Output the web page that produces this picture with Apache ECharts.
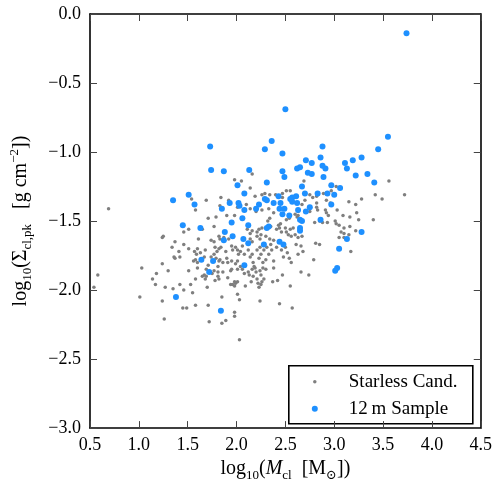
<!DOCTYPE html>
<html>
<head>
<meta charset="utf-8">
<script src="https://cdn.jsdelivr.net/npm/echarts@6/dist/echarts.min.js"></script>
<style>
  html, body { margin: 0; padding: 0; background: #fff; }
  #chart { width: 495px; height: 487px; }
</style>
</head>
<body>
<div id="chart"></div>
<script>
// starless core candidates: [log10 Mcl, log10 Sigma_cl,pk]
var starless = [
  [0.69,-1.41],[1.54,-1.34],[1.69,-1.35],[1.58,-1.42],[1.71,-1.48],[1.51,-1.56],[1.65,-1.56],[1.77,-1.54],
  [1.46,-1.58],[1.25,-1.61],[1.24,-1.62],[1.37,-1.65],[1.61,-1.63],[1.46,-1.67],[1.34,-1.69],[1.51,-1.70],
  [1.60,-1.70],[1.77,-1.65],[1.78,-1.69],[1.41,-1.72],[1.57,-1.72],[1.59,-1.74],[1.63,-1.73],[1.68,-1.71],
  [1.36,-1.76],[1.37,-1.77],[1.42,-1.76],[1.58,-1.78],[1.60,-1.80],[1.74,-1.76],[1.24,-1.81],[1.03,-1.84],
  [1.18,-1.88],[1.30,-1.86],[1.67,-1.89],[0.58,-1.89],[1.77,-1.86],[1.83,-1.39],[1.83,-1.63],[1.74,-1.64],
  [1.82,-1.70],[1.80,-1.72],[1.67,-1.76],[1.56,-1.79],[1.60,-1.84],[1.71,-1.82],[1.69,-1.85],[1.81,-1.83],
  [1.82,-1.79],[1.51,-1.86],[1.65,-1.90],[1.75,-1.88],
  [0.54,-1.98],[1.14,-1.92],[1.17,-1.96],[1.01,-2.05],[1.27,-1.98],[1.35,-1.99],[1.42,-1.96],[1.46,-2.00],
  [1.24,-2.08],[1.26,-2.21],[1.45,-2.13],[1.49,-2.13],[1.53,-1.96],[1.55,-2.02],[1.58,-1.92],[1.58,-2.11],
  [1.68,-1.92],[1.69,-1.90],[1.70,-1.98],[1.71,-2.11],[1.72,-2.23],[1.78,-1.93],[1.81,-1.87],[1.81,-1.90],
  [1.82,-1.92],[1.86,-1.87],[1.85,-2.05],[1.89,-2.22],[1.85,-2.24],[1.91,-1.91],[1.95,-1.85],[1.96,-1.96],
  [1.98,-1.94],[1.99,-1.95],[2.01,-1.94],[1.98,-1.97],[2.01,-2.03],[2.03,-2.07],[1.98,-2.16],[1.98,-2.19],
  [2.03,-2.36],[2.01,-1.85],[2.06,-1.85],[2.08,-1.88],[2.09,-1.97],[2.13,-1.89],[2.15,-1.94],[2.16,-1.85],
  [2.17,-1.90],[2.20,-1.87],[2.21,-1.92],[2.22,-1.95],[2.23,-1.98],[2.24,-2.08],[2.25,-1.96],[2.27,-1.84],
  [2.30,-1.85],[2.28,-1.92],[2.37,-1.94],[2.38,-1.84],[2.42,-1.93],[2.44,-2.10],[2.47,-1.89],[2.55,-1.97],
  [2.66,-1.87],[2.74,-1.89],[2.57,-2.13],[1.94,-1.96],[2.19,-1.84],[2.26,-1.94],
  [1.98,-1.20],[2.05,-1.21],[2.16,-1.16],[2.14,-1.26],[2.19,-1.32],[2.26,-1.31],[2.29,-1.30],[2.34,-1.31],
  [2.40,-1.31],[2.47,-1.30],[2.51,-1.28],[2.55,-1.28],[2.47,-1.33],[1.92,-1.35],[1.84,-1.33],[2.01,-1.40],
  [2.10,-1.38],[2.14,-1.41],[2.20,-1.43],[1.90,-1.46],[1.98,-1.46],[2.26,-1.42],[2.33,-1.41],[2.38,-1.44],
  [2.34,-1.48],[2.32,-1.50],[2.51,-1.49],[2.54,-1.48],[2.62,-1.47],[2.75,-1.43],[2.83,-1.42],[2.91,-1.42],
  [2.82,-1.37],[2.92,-1.35],[2.96,-1.37],[2.70,-1.35],[2.67,-1.38],[2.60,-1.45],[2.94,-1.46],[2.93,-1.51],
  [3.03,-1.42],[3.01,-1.50],[1.79,-1.47],[2.11,-1.56],[2.16,-1.57],[2.14,-1.59],[2.21,-1.58],[2.23,-1.56],
  [2.26,-1.55],[2.35,-1.54],[2.43,-1.53],[2.44,-1.55],[2.45,-1.52],[2.41,-1.56],[2.46,-1.58],[2.50,-1.55],
  [2.51,-1.58],[2.58,-1.55],[2.53,-1.60],[2.56,-1.61],[2.63,-1.62],[2.25,-1.60],[2.21,-1.61],[2.24,-1.63],
  [2.14,-1.63],[2.16,-1.65],[2.30,-1.61],[2.34,-1.63],[2.35,-1.67],[2.38,-1.64],[1.82,-1.61],[1.87,-1.62],
  [1.92,-1.63],[1.84,-1.69],[1.89,-1.72],[1.95,-1.68],[1.96,-1.71],[1.99,-1.69],[2.01,-1.71],[2.02,-1.74],
  [2.04,-1.72],[2.06,-1.68],[2.08,-1.74],[2.12,-1.71],[2.14,-1.76],[2.16,-1.74],[2.21,-1.71],[2.24,-1.69],
  [2.25,-1.74],[2.28,-1.71],[2.31,-1.69],[2.33,-1.74],[2.36,-1.71],[2.41,-1.69],[2.46,-1.71],[2.50,-1.69],
  [2.52,-1.73],[2.61,-1.67],[2.66,-1.68],[2.81,-1.66],[2.85,-1.67],[1.77,-1.74],[1.79,-1.77],[1.83,-1.78],
  [1.86,-1.80],[1.90,-1.77],[1.91,-1.80],[1.95,-1.79],[1.99,-1.81],[2.01,-1.79],[2.04,-1.83],[2.17,-1.80],
  [2.18,-1.83],[2.23,-1.77],[2.27,-1.80],[2.30,-1.78],[2.38,-1.79],[2.54,-1.77],[2.56,-1.80],[2.63,-1.74],
  [1.94,-1.86],[2.12,-1.87],[2.24,-1.86],[2.25,-1.89],
  [2.73,-1.15],[2.69,-1.21],[2.75,-1.31],[2.78,-1.33],[2.82,-1.32],[2.89,-1.30],[3.02,-1.25],[2.97,-1.28],
  [3.15,-1.36],[3.28,-1.34],[3.42,-1.31],[3.49,-1.34],[3.56,-1.21],[3.72,-1.31],[3.09,-1.46],[3.16,-1.47],
  [3.23,-1.44],[3.25,-1.49],[3.40,-1.49],[3.02,-1.52],[3.05,-1.53],[3.10,-1.55],[3.16,-1.54],[3.22,-1.57],
  [3.07,-1.58],[3.10,-1.59],[3.15,-1.60],[3.05,-1.62],[3.10,-1.62],[3.17,-1.72],[2.79,-1.78],[2.48,-1.76],
  [2.68,-1.72],[2.60,-1.60],[2.67,-1.61],[2.55,-1.56],[2.63,-1.46],[2.63,-1.43],[2.82,-1.40],[2.92,-1.44],
  [2.85,-1.50],[2.88,-1.51],[2.80,-1.51],[3.22,-1.38]
];

// 12 m sample: [log10 Mcl, log10 Sigma_cl,pk]
var sample12m = [
  [3.74,-0.14],[2.50,-0.69],[1.73,-0.96],[2.36,-0.92],[2.29,-0.98],[2.47,-1.01],[2.88,-0.96],[2.86,-1.04],
  [3.28,-1.04],[3.45,-0.98],[3.55,-0.89],[2.71,-1.06],[2.77,-1.08],[2.88,-1.10],[2.91,-1.12],[2.65,-1.11],
  [2.62,-1.12],[1.74,-1.13],[1.87,-1.14],[2.13,-1.13],[2.47,-1.14],[2.49,-1.18],[2.73,-1.15],[2.77,-1.16],
  [2.89,-1.18],[2.31,-1.22],[2.01,-1.24],[2.67,-1.25],[2.08,-1.30],[2.70,-1.30],[2.83,-1.30],[2.93,-1.30],
  [3.00,-1.31],[2.43,-1.32],[2.57,-1.33],[2.61,-1.32],[2.55,-1.34],[2.29,-1.34],[2.31,-1.35],[2.02,-1.37],
  [1.93,-1.37],[2.38,-1.37],[2.23,-1.38],[2.45,-1.37],[2.57,-1.36],[2.62,-1.37],[2.03,-1.39],[2.08,-1.42],
  [1.85,-1.41],[2.20,-1.41],[2.44,-1.41],[2.49,-1.41],[2.63,-1.42],[2.75,-1.40],[2.71,-1.43],[2.47,-1.45],
  [2.54,-1.46],[2.06,-1.48],[2.86,-1.49],[2.65,-1.49],[2.67,-1.50],[1.95,-1.51],[2.12,-1.53],[2.33,-1.54],
  [2.31,-1.55],[2.65,-1.55],[2.65,-1.57],[1.88,-1.58],[1.96,-1.61],[1.87,-1.64],[2.07,-1.63],[2.12,-1.66],
  [2.28,-1.67],[2.44,-1.65],[2.48,-1.67],[3.05,-1.70],[1.76,-1.79],[2.08,-1.82],[3.03,-1.84],[3.01,-1.86],
  [1.51,-1.31],[1.35,-1.35],[1.57,-1.38],[1.45,-1.53],[1.63,-1.55],[1.64,-1.78],[1.72,-1.87],[1.38,-2.05],
  [1.84,-2.15],[3.11,-1.08],[3.19,-1.06],[3.13,-1.12],[3.22,-1.17],[3.34,-1.16],[3.41,-1.22],[3.06,-1.26],
  [3.28,-1.58],[3.13,-1.63],[2.97,-1.24],[2.97,-1.38]
];

var legendNames = ['Starless Cand.', '12\u2009m Sample'];

var serif = '"Liberation Serif", "DejaVu Serif", serif';
var fmt = function (v) { return v.toFixed(1).replace('-', '\u2212'); };

var tickStyle = { show: true, inside: true, length: 7, lineStyle: { color: '#444', width: 1 } };
var lineStyle = { show: true, onZero: false, lineStyle: { color: '#000', width: 1.6 } };
var nameRich = {
  n: { fontSize: 20, fontFamily: serif, color: '#000', lineHeight: 26 },
  i: { fontSize: 20, fontFamily: serif, fontStyle: 'italic', color: '#000', lineHeight: 26 },
  s: { fontSize: 13, fontFamily: serif, color: '#000', verticalAlign: 'bottom' },
  p: { fontSize: 13, fontFamily: serif, color: '#000', verticalAlign: 'top' }
};

var chart = echarts.init(document.getElementById('chart'));
chart.setOption({
  animation: false,
  grid: { left: 89, right: 14, top: 14, bottom: 54 },
  xAxis: [
    {
      type: 'value', min: 0.5, max: 4.5, interval: 0.5, position: 'bottom',
      axisLine: lineStyle, axisTick: tickStyle, splitLine: { show: false },
      axisLabel: { formatter: fmt, margin: 8, fontSize: 18, fontFamily: serif, color: '#000' },
      name: '{n|log}{s|10}{n|(}{i|M}{s|cl}{n|  [M}{s|\u2299}{n|])}',
      nameLocation: 'middle', nameGap: 25,
      nameTextStyle: { rich: nameRich }
    },
    {
      type: 'value', min: 0.5, max: 4.5, interval: 0.5, position: 'top',
      axisLine: lineStyle, axisTick: tickStyle, splitLine: { show: false },
      axisLabel: { show: false }
    }
  ],
  yAxis: [
    {
      type: 'value', min: -3, max: 0, interval: 0.5, position: 'left',
      axisLine: lineStyle, axisTick: tickStyle, splitLine: { show: false },
      axisLabel: { formatter: fmt, margin: 9, fontSize: 18, fontFamily: serif, color: '#000' },
      name: '{n|log}{s|10}{n|(\u03A3}{s|cl,pk}{n|   [g cm}{p|\u22122}{n|])}',
      nameLocation: 'middle', nameGap: 56,
      nameTextStyle: { rich: nameRich }
    },
    {
      type: 'value', min: -3, max: 0, interval: 0.5, position: 'right',
      axisLine: lineStyle, axisTick: tickStyle, splitLine: { show: false },
      axisLabel: { show: false }
    }
  ],
  series: [
    {
      name: legendNames[0], type: 'scatter', data: starless,
      symbolSize: 3.5, itemStyle: { color: '#7f7f7f', opacity: 1 }, z: 2
    },
    {
      name: legendNames[1], type: 'scatter', data: sample12m,
      symbolSize: 6, itemStyle: { color: '#1e90ff', opacity: 1 }, z: 3
    }
  ],
  graphic: [
    {
      type: 'group', left: 288, top: 365, z: 10,
      children: [
        { type: 'rect', shape: { x: 0, y: 0, width: 184, height: 58 },
          style: { fill: '#fff', stroke: '#000', lineWidth: 1.6 } },
        { type: 'circle', shape: { cx: 26, cy: 16, r: 1.75 }, style: { fill: '#7f7f7f' } },
        { type: 'text', x: 60, y: 16,
          style: { text: legendNames[0], font: '19px ' + serif, fill: '#000', verticalAlign: 'middle' } },
        { type: 'circle', shape: { cx: 26, cy: 43, r: 3 }, style: { fill: '#1e90ff' } },
        { type: 'text', x: 60, y: 43,
          style: { text: legendNames[1], font: '19px ' + serif, fill: '#000', verticalAlign: 'middle' } }
      ]
    }
  ]
});
</script>
</body>
</html>
